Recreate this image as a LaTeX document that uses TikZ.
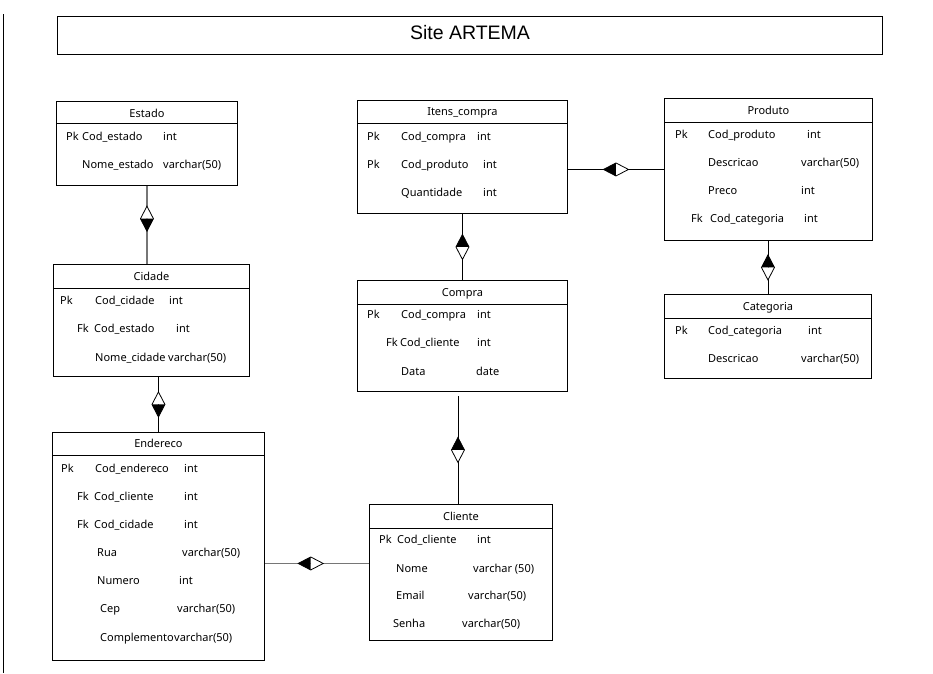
\documentclass[tikz,border=0pt]{standalone}
\usepackage{fontspec}
\setmainfont{Noto Sans}
\newfontfamily\titlefont{Liberation Sans}
\usetikzlibrary{calc,decorations.markings}

\definecolor{linhacinza}{RGB}{118,118,118}

\tikzset{
  tbl/.style={draw, line width=0.9pt, inner sep=0pt, anchor=north west},
  fld/.style={anchor=base west, inner sep=0pt, font=\fontsize{11}{13}\selectfont},
  hdr/.style={anchor=base, inner sep=0pt, font=\fontsize{11}{13}\selectfont},
  halfdia/.pic={
    \fill[white] (0,-6.5) -- (-12.5,0) -- (0,6.5) -- cycle;
    \fill[black] (0,-6.5) -- (12.5,0) -- (0,6.5) -- cycle;
    \draw[black, line width=0.8pt] (-12.5,0) -- (0,6.5) -- (12.5,0) -- (0,-6.5) -- cycle;
  },
  rel/.style={line width=0.9pt,
    decoration={markings, mark=at position #1 with {\pic[transform shape]{halfdia};}},
    postaction=decorate},
  rel/.default=0.5,
  cinza/.style={draw=linhacinza, line width=1.7pt}
}

\begin{document}
\begin{tikzpicture}[x=1pt,y=-1pt]
	\useasboundingbox (0,0) rectangle (933,673);
	\draw[line width=1pt] (3,14) -- (3,673);

	% titulo
	\node[tbl, minimum width=825, minimum height=38] (titulo) at (57,16) {};
	\node[inner sep=0pt, font=\titlefont\fontsize{19.5}{22}\selectfont] (titulo-t) at (470,33) {Site ARTEMA};

	% Estado
	\node[tbl, minimum width=181, minimum height=84] (estado) at (56,101) {};
	\draw ([yshift=-22pt]estado.north west) -- ([yshift=-22pt]estado.north east);
	\node[hdr] (estado-t) at ([yshift=-16pt]estado.north) {Estado};
	\foreach \x/\y/\txt [count=\i] in {66/140/Pk, 82/140/Cod\_estado, 163/140/int,
		82/168/Nome\_estado, 163/168/varchar(50)}
		\node[fld] (estado-\i) at (\x,\y) {\txt};

	% Cidade
	\node[tbl, minimum width=196, minimum height=112] (cidade) at (53,264) {};
	\draw ([yshift=-24pt]cidade.north west) -- ([yshift=-24pt]cidade.north east);
	\node[hdr] (cidade-t) at ([yshift=-16pt]cidade.north) {Cidade};
	\foreach \x/\y/\txt [count=\i] in {60/304/Pk, 95/304/Cod\_cidade, 169/304/int,
		77/332/Fk, 94/332/Cod\_estado, 176/332/int,
		95/361/Nome\_cidade, 168/361/varchar(50)}
		\node[fld] (cidade-\i) at (\x,\y) {\txt};

	% Itens_compra
	\node[tbl, minimum width=210, minimum height=113] (itens) at (357,100) {};
	\draw ([yshift=-23pt]itens.north west) -- ([yshift=-23pt]itens.north east);
	\node[hdr] (itens-t) at ([yshift=-15pt]itens.north) {Itens\_compra};
	\foreach \x/\y/\txt [count=\i] in {367/140/Pk, 401/140/Cod\_compra, 477/140/int,
		367/168/Pk, 401/168/Cod\_produto, 483/168/int,
		401/196/Quantidade, 483/196/int}
		\node[fld] (itens-\i) at (\x,\y) {\txt};

	% Compra
	\node[tbl, minimum width=210, minimum height=111] (compra) at (357,280) {};
	\draw ([yshift=-24pt]compra.north west) -- ([yshift=-24pt]compra.north east);
	\node[hdr] (compra-t) at ([yshift=-16pt]compra.north) {Compra};
	\foreach \x/\y/\txt [count=\i] in {367/318/Pk, 401/318/Cod\_compra, 477/318/int,
		386/346/Fk, 400/346/Cod\_cliente, 477/346/int,
		401/375/Data, 476/375/date}
		\node[fld] (compra-\i) at (\x,\y) {\txt};

	% Produto
	\node[tbl, minimum width=208, minimum height=142] (produto) at (664,98) {};
	\draw ([yshift=-24pt]produto.north west) -- ([yshift=-24pt]produto.north east);
	\node[hdr] (produto-t) at ([yshift=-16pt]produto.north) {Produto};
	\foreach \x/\y/\txt [count=\i] in {675/138/Pk, 708/138/Cod\_produto, 807/138/int,
		708/166/Descricao, 801/166/varchar(50),
		708/194/Preco, 801/194/int,
		691/222/Fk, 710/222/Cod\_categoria, 804/222/int}
		\node[fld] (produto-\i) at (\x,\y) {\txt};

	% Categoria
	\node[tbl, minimum width=207, minimum height=84] (categoria) at (664,294) {};
	\draw ([yshift=-24pt]categoria.north west) -- ([yshift=-24pt]categoria.north east);
	\node[hdr] (categoria-t) at ([yshift=-16pt]categoria.north) {Categoria};
	\foreach \x/\y/\txt [count=\i] in {675/334/Pk, 708/334/Cod\_categoria, 808/334/int,
		708/362/Descricao, 801/362/varchar(50)}
		\node[fld] (categoria-\i) at (\x,\y) {\txt};

	% Endereco
	\node[tbl, minimum width=212, minimum height=228] (endereco) at (52,432) {};
	\draw ([yshift=-23pt]endereco.north west) -- ([yshift=-23pt]endereco.north east);
	\node[hdr] (endereco-t) at ([yshift=-15pt]endereco.north) {Endereco};
	\foreach \x/\y/\txt [count=\i] in {61/472/Pk, 95/472/Cod\_endereco, 184/472/int,
		77/500/Fk, 94/500/Cod\_cliente, 184/500/int,
		77/528/Fk, 94/528/Cod\_cidade, 184/528/int,
		97/556/Rua, 182/556/varchar(50),
		97/584/Numero, 179/584/int,
		100/612/Cep, 177/612/varchar(50),
		100/641/Complemento, 174/641/varchar(50)}
		\node[fld] (endereco-\i) at (\x,\y) {\txt};

	% Cliente
	\node[tbl, minimum width=183, minimum height=136] (cliente) at (369,504) {};
	\draw ([yshift=-24pt]cliente.north west) -- ([yshift=-24pt]cliente.north east);
	\node[hdr] (cliente-t) at ([yshift=-16pt]cliente.north) {Cliente};
	\foreach \x/\y/\txt [count=\i] in {379/543/Pk, 397/543/Cod\_cliente, 477/543/int,
		396/572/Nome, 473/572/varchar (50),
		396/599/Email, 468/599/varchar(50),
		393/627/Senha, 462/627/varchar(50)}
		\node[fld] (cliente-\i) at (\x,\y) {\txt};

	% relacionamentos
	\draw[rel=0.42, cinza] (estado.south) -- (estado.south |- cidade.north);
	\draw[rel] (cidade.south -| endereco.north) -- (endereco.north);
	\draw[rel] (compra.north) -- (itens.south);
	\draw[rel] (produto.west) -- (produto.west -| itens.east);
	\draw[rel] (categoria.north) -- (categoria.north |- produto.south);
	\draw[rel] ([xshift=-3pt]cliente.north) -- ([xshift=-3pt,yshift=-4pt]cliente.north |- compra.south);
	\draw[rel=0.56, cinza] ([yshift=9pt]cliente.west) -- ([yshift=9pt]cliente.west -| endereco.east);
\end{tikzpicture}
\end{document}
